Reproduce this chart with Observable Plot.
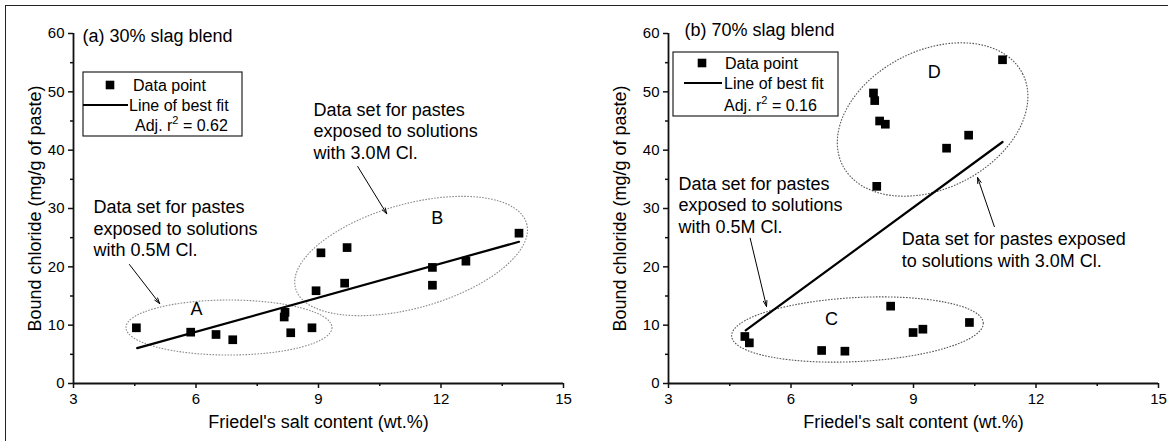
<!DOCTYPE html>
<html><head><meta charset="utf-8">
<script src="https://cdn.jsdelivr.net/npm/d3@7"></script>
<script src="https://cdn.jsdelivr.net/npm/@observablehq/plot@0.6"></script>
<style>
body{margin:0;background:#fff;}
#wrap{position:relative;width:1168px;height:441px;overflow:hidden;background:#fff;}
#frame{position:absolute;left:4.5px;top:4.5px;width:1200px;height:500px;border-top:1.5px solid #222;border-left:1.5px solid #222;pointer-events:none;}
.panel{position:absolute;top:0;}
</style></head><body>
<div id="wrap"><div class="panel" id="pa" style="left:0"></div><div class="panel" id="pb" style="left:584px"></div><div id="frame"></div></div>
<script>
// ---- data ----
const xTicks = [3, 6, 9, 12, 15];
const xMinorTicks = [4.5, 7.5, 10.5, 13.5];
const yTicks = [0, 10, 20, 30, 40, 50, 60];
const yMinorTicks = [5, 15, 25, 35, 45, 55];
const xLabel = "Friedel's salt content (wt.%)";
const yLabel = "Bound chloride (mg/g of paste)";
const titles = ["(a) 30% slag blend", "(b) 70% slag blend"];
const legendLabels = ["Data point", "Line of best fit", "Adj. r"];
const adjR2 = ["0.62", "0.16"];

// (a) 30% slag blend
const friedel30 = [4.54, 5.87, 6.49, 6.90, 8.18, 8.16, 8.32, 8.84, 9.06, 9.70, 8.94, 9.64, 11.79, 11.79, 12.61, 13.91];
const bound30   = [9.55, 8.80, 8.40, 7.50, 12.2, 11.4, 8.70, 9.55, 22.4, 23.3, 15.9, 17.2, 19.9, 16.85, 20.97, 25.77];
const fit30X = [4.56, 13.91];
const fit30Y = [6.06, 24.3];

// (b) 70% slag blend
const friedel70 = [4.87, 4.98, 6.75, 7.32, 8.44, 8.99, 9.23, 10.37, 11.18, 8.02, 8.05, 8.17, 8.31, 10.35, 9.81, 8.10];
const bound70   = [8.06, 6.97, 5.66, 5.54, 13.26, 8.74, 9.31, 10.46, 55.5, 49.8, 48.5, 45.0, 44.45, 42.57, 40.34, 33.8];
const fit70X = [4.89, 11.18];
const fit70Y = [9.1, 41.4];

// annotations (data units)
const notes30 = [
  {x: 8.88, y: 43.4, text: "Data set for pastes\nexposed to solutions\nwith 3.0M Cl."},
  {x: 3.49, y: 26.7, text: "Data set for pastes\nexposed to solutions\nwith 0.5M Cl."}
];
const notes70 = [
  {x: 3.245, y: 30.7, text: "Data set for pastes\nexposed to solutions\nwith 0.5M Cl."},
  {x: 8.71, y: 23.06, text: "Data set for pastes exposed\nto solutions with 3.0M Cl."}
];
const groups30 = [{x: 6.01, y: 12.7, text: "A"}, {x: 11.91, y: 28.3, text: "B"}];
const groups70 = [{x: 6.99, y: 11.1, text: "C"}, {x: 9.51, y: 53.3, text: "D"}];
const arrows30 = [{x1: 9.96, y1: 37.2, x2: 10.67, y2: 29.1}, {x1: 4.37, y1: 20.4, x2: 5.11, y2: 13.7}];
const arrows70 = [{x1: 5.0, y1: 24.9, x2: 5.40, y2: 13.2}, {x1: 10.98, y1: 26.9, x2: 10.57, y2: 35.3}];
const ellipses30 = [{x: 6.82, y: 9.51, rx: 103, ry: 27.5, rot: 0}, {x: 11.28, y: 21.77, rx: 120, ry: 52, rot: -15.7}];
const ellipses70 = [{x: 7.64, y: 9.17, rx: 126, ry: 32, rot: -3}, {x: 9.48, y: 45.17, rx: 101, ry: 69, rot: -27}];

// ---- drawing ----
const FONT = "'Liberation Sans', Arial, Helvetica, sans-serif";
const xDomain = [3, 15], yDomain = [0, 60];

function ellipseMark(specs, color) {
  return (index, scales) => {
    const g = d3.create("svg:g");
    for (const e of specs) {
      const cx = scales.x(e.x), cy = scales.y(e.y);
      g.append("ellipse").attr("cx", cx).attr("cy", cy).attr("rx", e.rx).attr("ry", e.ry)
        .attr("transform", `rotate(${e.rot} ${cx} ${cy})`)
        .attr("fill", "none").attr("stroke", color).attr("stroke-width", 1.1)
        .attr("stroke-dasharray", "1.6 1.4");
    }
    return g.node();
  };
}

function legendMark(L, r2) {
  return (index, scales, values, dims) => {
    const ox = dims.marginLeft, oy = dims.marginTop;
    const g = d3.create("svg:g").attr("font-family", FONT).attr("font-size", 16)
      .attr("fill", "#000").attr("text-anchor", "start");
    g.append("rect").attr("x", ox + L.box[0]).attr("y", oy + L.box[1]).attr("width", L.box[2]).attr("height", L.box[3])
      .attr("fill", "#fff").attr("stroke", "#222").attr("stroke-width", 1.2);
    g.append("rect").attr("x", ox + L.sq[0] - 4.3).attr("y", oy + L.sq[1] - 4.3).attr("width", 8.6).attr("height", 8.6).attr("fill", "#000");
    g.append("line").attr("x1", ox + L.line[0]).attr("x2", ox + L.line[1]).attr("y1", oy + L.line[2]).attr("y2", oy + L.line[2])
      .attr("stroke", "#000").attr("stroke-width", 2);
    g.append("text").attr("x", ox + L.t[0][0]).attr("y", oy + L.t[0][1] + 5.6).text(legendLabels[0]);
    g.append("text").attr("x", ox + L.t[1][0]).attr("y", oy + L.t[1][1] + 5.6).text(legendLabels[1]);
    const t = g.append("text").attr("x", ox + L.t[2][0]).attr("y", oy + L.t[2][1] + 5.6);
    t.append("tspan").text(legendLabels[2]);
    t.append("tspan").attr("font-size", 11).attr("dy", -7).text("2");
    t.append("tspan").attr("dy", 7).text(" = " + r2);
    return g.node();
  };
}

function panel(cfg) {
  const pts = cfg.fx.map((x, i) => ({x, y: cfg.fy[i]}));
  const fit = cfg.lx.map((x, i) => ({x, y: cfg.ly[i]}));
  return Plot.plot({
    width: 584, height: 441,
    marginLeft: cfg.ml, marginRight: cfg.mr, marginTop: 33, marginBottom: 58,
    x: {domain: xDomain}, y: {domain: yDomain},
    style: {fontFamily: FONT, background: "transparent", overflow: "visible", color: "#111"},
    marks: [
      ellipseMark(cfg.ellipses, cfg.ellColor),
      Plot.axisX({ticks: xTicks, tickSize: 5, tickPadding: 5, fontSize: 15, strokeWidth: 1.5, label: null, fill: "#000"}),
      Plot.axisX({ticks: xMinorTicks, tickSize: 3, strokeWidth: 1.5, tickFormat: () => "", label: null}),
      Plot.axisY({ticks: yTicks, tickSize: 5, tickPadding: 4, fontSize: 15, strokeWidth: 1.5, label: null, fill: "#000"}),
      Plot.axisY({ticks: yMinorTicks, tickSize: 3, strokeWidth: 1.5, tickFormat: () => "", label: null}),
      Plot.ruleY([yDomain[0]], {x1: xDomain[0], x2: xDomain[1], strokeWidth: 1.8, stroke: "#111"}),
      Plot.ruleX([xDomain[0]], {y1: yDomain[0], y2: yDomain[1], strokeWidth: 1.8, stroke: "#111"}),
      Plot.line(fit, {x: "x", y: "y", stroke: "#000", strokeWidth: 2.2}),
      Plot.dot(pts, {x: "x", y: "y", symbol: "square", r: 4.9, fill: "#000", stroke: "none"}),
      Plot.arrow(cfg.arrows, {x1: "x1", y1: "y1", x2: "x2", y2: "y2", stroke: "#000", strokeWidth: 1, headLength: 9, headAngle: 35}),
      Plot.text(cfg.notes, {x: "x", y: "y", text: "text", textAnchor: "start", fontSize: 18, lineHeight: 1.2, fill: "#000"}),
      Plot.text(cfg.groups, {x: "x", y: "y", text: "text", fontSize: 18, fill: "#000"}),
      Plot.text([cfg.title], {text: d => d, frameAnchor: "top-left", dx: cfg.tdx, dy: cfg.tdy, textAnchor: "start", lineAnchor: "middle", fontSize: 18, fill: "#000"}),
      Plot.text([xLabel], {text: d => d, frameAnchor: "bottom", dy: 39, textAnchor: "middle", lineAnchor: "middle", fontSize: 18, fill: "#000"}),
      Plot.text([yLabel], {text: d => d, frameAnchor: "left", dx: cfg.ydx, rotate: -90, textAnchor: "middle", lineAnchor: "middle", fontSize: 18, fill: "#000"}),
      legendMark(cfg.legend, cfg.r2)
    ]
  });
}

document.getElementById("pa").append(panel({
  fx: friedel30, fy: bound30, lx: fit30X, ly: fit30Y, ml: 73, mr: 21,
  notes: notes30, groups: groups30, arrows: arrows30, ellipses: ellipses30, ellColor: "#8a8a8a",
  title: titles[0], tdx: 9, tdy: 3, ydx: -38, r2: adjR2[0],
  legend: {box: [10, 39, 159, 64], sq: [37, 52], line: [10, 55, 72], t: [[60, 52], [56, 72], [62, 92]]}
}));
document.getElementById("pb").append(panel({
  fx: friedel70, fy: bound70, lx: fit70X, ly: fit70Y, ml: 84, mr: 10,
  notes: notes70, groups: groups70, arrows: arrows70, ellipses: ellipses70, ellColor: "#555",
  title: titles[1], tdx: 16, tdy: -3, ydx: -48, r2: adjR2[1],
  legend: {box: [5, 19, 165, 64], sq: [34, 30], line: [16, 54, 50], t: [[57, 30], [56, 50], [56, 72]]}
}));
</script>
</body></html>
